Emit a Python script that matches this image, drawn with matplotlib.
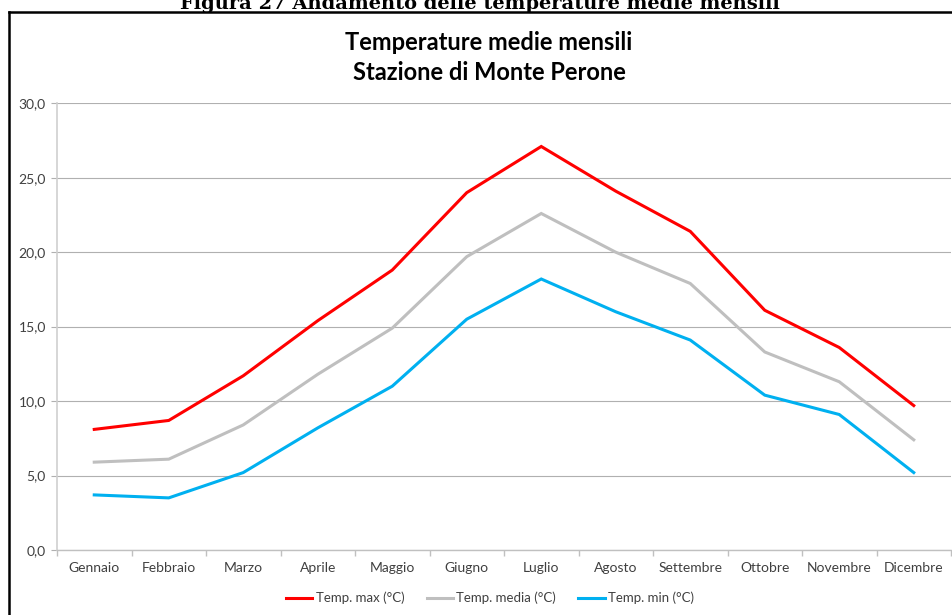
import matplotlib
matplotlib.use("Agg")
import matplotlib.pyplot as plt
from matplotlib.lines import Line2D
from matplotlib.ticker import FuncFormatter, FixedLocator

months = ["Gennaio", "Febbraio", "Marzo", "Aprile", "Maggio", "Giugno",
          "Luglio", "Agosto", "Settembre", "Ottobre", "Novembre", "Dicembre"]
temp_max = [8.1, 8.7, 11.7, 15.4, 18.8, 24.0, 27.1, 24.1, 21.4, 16.1, 13.6, 9.7]
temp_media = [5.9, 6.1, 8.4, 11.8, 14.9, 19.7, 22.6, 20.0, 17.9, 13.3, 11.3, 7.4]
temp_min = [3.7, 3.5, 5.2, 8.2, 11.0, 15.5, 18.2, 16.0, 14.1, 10.4, 9.1, 5.2]
series_labels = ["Temp. max (°C)", "Temp. media (°C)", "Temp. min (°C)"]
y_ticks = [0, 5, 10, 15, 20, 25, 30]

W, H = 953, 615
fig = plt.figure(figsize=(W / 100, H / 100), dpi=100)
fig.patch.set_facecolor("white")

# outer frame (left and top visible)
fig.add_artist(Line2D([9 / W, 9 / W], [0, 1 - 12 / H], color="black", lw=1.8,
                      transform=fig.transFigure, solid_capstyle="projecting"))
fig.add_artist(Line2D([9 / W, 1], [1 - 12 / H, 1 - 12 / H], color="black", lw=1.8,
                      transform=fig.transFigure, solid_capstyle="projecting"))

# caption above frame (partly cut off as in the reference)
fig.text(480 / W, 1 - 9 / H, "Figura 27 Andamento delle temperature medie mensili",
         ha="center", va="baseline", fontsize=14, fontweight="bold",
         family="DejaVu Serif", color="black")

ax = fig.add_axes([57 / W, 1 - 550 / H, (951 - 57) / W, (550 - 103.3) / H])
x = list(range(len(months)))
colors = ["#ff0000", "#bfbfbf", "#00b0f0"]
for vals, lab, c in zip([temp_max, temp_media, temp_min], series_labels, colors):
    ax.plot(x, vals, color=c, lw=2.2, label=lab, solid_joinstyle="miter")

ax.set_xlim(-0.5, len(months) - 0.5)
ax.set_ylim(0, 30)
ax.set_yticks(y_ticks)
ax.yaxis.set_major_formatter(FuncFormatter(lambda v, p: f"{v:.1f}".replace(".", ",")))
ax.set_xticks(x)
ax.set_xticklabels(months)
ax.xaxis.set_minor_locator(FixedLocator([i - 0.5 for i in range(len(months) + 1)]))
ax.tick_params(axis="x", which="major", length=0, pad=9, labelsize=10, labelcolor="#404040")
ax.tick_params(axis="x", which="minor", length=4, color="#c0c0c0", width=1)
ax.tick_params(axis="y", which="major", length=4, color="#b0b0b0", width=0.8,
               pad=4, labelsize=10, labelcolor="#404040")
for lbl in ax.get_xticklabels() + ax.get_yticklabels():
    lbl.set_family("Lato")

ax.grid(axis="y", color="#b0b0b0", lw=0.8)
ax.set_axisbelow(True)
for s in ["top", "right"]:
    ax.spines[s].set_visible(False)
ax.spines["left"].set_color("#d0d0d0")
ax.spines["left"].set_linewidth(1.2)
ax.spines["bottom"].set_color("#c0c0c0")
ax.spines["bottom"].set_linewidth(1.0)

fig.text(489 / W, 1 - 42 / H, "Temperature medie mensili", ha="center", va="center",
         fontsize=17, fontweight="bold", family="Lato", color="black")
fig.text(489 / W, 1 - 72 / H, "Stazione di Monte Perone", ha="center", va="center",
         fontsize=17, fontweight="bold", family="Lato", color="black")

leg = fig.legend(loc="center", bbox_to_anchor=(490 / W, 1 - 598 / H), ncol=3,
                 frameon=False, handlelength=2.0, handletextpad=0.25, columnspacing=1.7,
                 prop={"family": "Lato", "size": 9.5})
for t in leg.get_texts():
    t.set_color("#404040")

fig.savefig("out.png", dpi=100, facecolor="white")
